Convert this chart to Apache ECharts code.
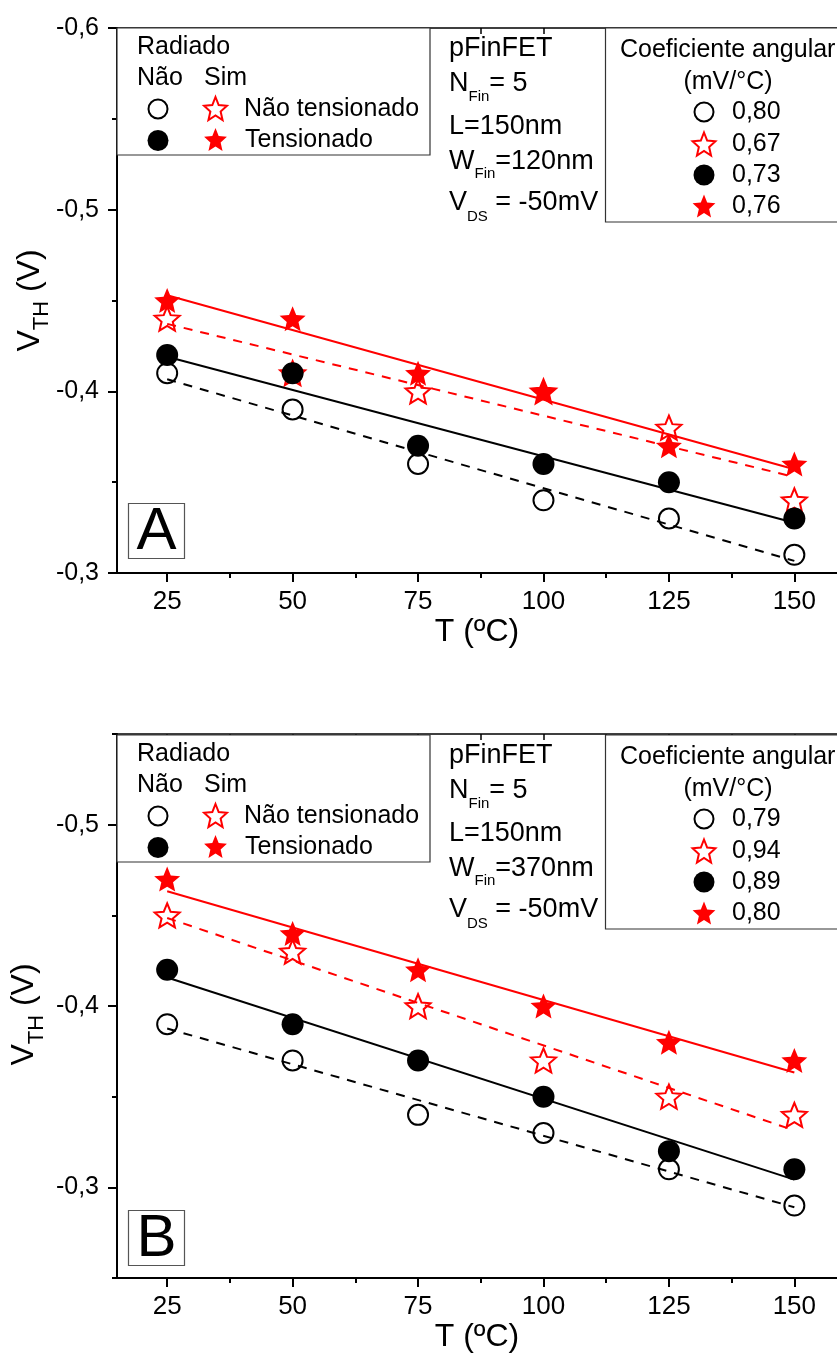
<!DOCTYPE html>
<html><head><meta charset="utf-8">
<script src="https://cdn.jsdelivr.net/npm/echarts@6/dist/echarts.min.js"></script>
<style>html,body{margin:0;padding:0;background:#fff}#c{width:837px;height:1354px}</style>
</head><body><div id="c"></div>
<script>
// ---------- data ----------
const temps = [25, 50, 75, 100, 125, 150];
const xTicks = [25, 50, 75, 100, 125, 150];
const xMinorTicks = [37.5, 62.5, 87.5, 112.5, 137.5];

// Panel A (W_Fin = 120 nm)
const aNaoRadNaoTens = [-0.41, -0.39, -0.36, -0.34, -0.33, -0.31];
const aNaoRadTens    = [-0.42, -0.41, -0.37, -0.36, -0.35, -0.33];
const aRadNaoTens    = [-0.44, -0.41, -0.40, -0.40, -0.38, -0.34];
const aRadTens       = [-0.45, -0.44, -0.41, -0.40, -0.37, -0.36];
const aSlopes = ['0,80', '0,67', '0,73', '0,76'];
const aYTicks = [-0.6, -0.5, -0.4, -0.3];
const aYMinor = [-0.55, -0.45, -0.35];

// Panel B (W_Fin = 370 nm)
const bNaoRadNaoTens = [-0.39, -0.37, -0.34, -0.33, -0.31, -0.29];
const bNaoRadTens    = [-0.42, -0.39, -0.37, -0.35, -0.32, -0.31];
const bRadNaoTens    = [-0.45, -0.43, -0.40, -0.37, -0.35, -0.34];
const bRadTens       = [-0.47, -0.44, -0.42, -0.40, -0.38, -0.37];
const bSlopes = ['0,79', '0,94', '0,89', '0,80'];
const bYTicks = [-0.5, -0.4, -0.3];
const bYMinor = [-0.55, -0.45, -0.35, -0.25];

// ---------- helpers ----------
const FONT = 'Liberation Sans, Arial, sans-serif';
const RED = '#ff0000';
const STAR_PTS = [[0,-1],[0.2645,-0.3641],[0.9511,-0.309],[0.428,0.1391],[0.5878,0.809],[0,0.45],[-0.5878,0.809],[-0.428,0.1391],[-0.9511,-0.309],[-0.2645,-0.3641]];
const STAR = 'M' + STAR_PTS.map(p => p[0] + ',' + p[1]).join('L') + 'Z';

function pairs(xs, ys) { return xs.map((x, i) => [x, ys[i]]); }
function fit(xs, ys) {
  const n = xs.length;
  const mx = xs.reduce((a, b) => a + b, 0) / n;
  const my = ys.reduce((a, b) => a + b, 0) / n;
  let sxy = 0, sxx = 0;
  for (let i = 0; i < n; i++) { sxy += (xs[i] - mx) * (ys[i] - my); sxx += (xs[i] - mx) ** 2; }
  const b = sxy / sxx, a = my - b * mx;
  return [[xs[0], a + b * xs[0]], [xs[n - 1], a + b * xs[n - 1]]];
}
const fmt = v => String(v).replace('.', ',');

const symStyles = [
  { symbol: 'circle', symbolSize: 20, itemStyle: { color: '#fff', borderColor: '#000', borderWidth: 2, opacity: 1 } },
  { symbol: 'path://' + STAR, symbolSize: [25, 24], itemStyle: { color: '#fff', borderColor: RED, borderWidth: 2, opacity: 1 } },
  { symbol: 'circle', symbolSize: 22, itemStyle: { color: '#000', opacity: 1 } },
  { symbol: 'path://' + STAR, symbolSize: [26, 25], itemStyle: { color: RED, opacity: 1 } }
];
const lineStyles = [
  { color: '#000', width: 2, type: [9, 8] },
  { color: RED, width: 2, type: [9, 8] },
  { color: '#000', width: 2, type: 'solid' },
  { color: RED, width: 2, type: 'solid' }
];

function panelSeries(sets, names, xi, yi) {
  const out = [];
  sets.forEach((ys, k) => {
    out.push(Object.assign({
      type: 'scatter', name: names[k], xAxisIndex: xi, yAxisIndex: yi,
      data: pairs(temps, ys), z: 2 + k
    }, symStyles[k]));
  });
  sets.forEach((ys, k) => {
    out.push({
      type: 'line', name: names[k] + ' fit', xAxisIndex: xi, yAxisIndex: yi,
      data: fit(temps, ys), showSymbol: false, silent: true, z: 10,
      lineStyle: lineStyles[k]
    });
  });
  return out;
}

function xAxes(gi) {
  return [
    { gridIndex: gi, type: 'value', min: 15, max: 158.5, position: 'bottom',
      axisLine: { show: true, lineStyle: { color: '#000', width: 2 } },
      axisTick: { show: true, length: 9, lineStyle: { color: '#000', width: 2 }, customValues: xTicks },
      axisLabel: { show: true, customValues: xTicks, formatter: fmt, fontSize: 26, fontFamily: FONT, color: '#000', margin: 16 },
      splitLine: { show: false },
      name: 'T (ºC)', nameLocation: 'middle', nameGap: 35,
      nameTextStyle: { fontSize: 32, fontFamily: FONT, color: '#000' } },
    { gridIndex: gi, type: 'value', min: 15, max: 158.5, position: 'bottom',
      axisLine: { show: false },
      axisTick: { show: true, length: 5, lineStyle: { color: '#000', width: 2 }, customValues: xMinorTicks },
      axisLabel: { show: false }, splitLine: { show: false } },
    { gridIndex: gi, type: 'value', min: 15, max: 158.5, position: 'top',
      axisLine: { show: true, lineStyle: { color: '#000', width: 1.5 } },
      axisTick: { show: true, inside: true, length: 6, lineStyle: { color: '#000', width: 1.5 }, customValues: xTicks.concat(xMinorTicks) },
      axisLabel: { show: false }, splitLine: { show: false } }
  ];
}
function yAxes(gi, min, max, ticks, minor) {
  return [
    { gridIndex: gi, type: 'value', min: min, max: max, inverse: true, position: 'left',
      axisLine: { show: true, lineStyle: { color: '#000', width: 2 } },
      axisTick: { show: true, length: 9, lineStyle: { color: '#000', width: 2 }, customValues: ticks },
      axisLabel: { show: true, customValues: ticks, formatter: fmt, fontSize: 25, fontFamily: FONT, color: '#000', margin: 18 },
      splitLine: { show: false } },
    { gridIndex: gi, type: 'value', min: min, max: max, inverse: true, position: 'left',
      axisLine: { show: false },
      axisTick: { show: true, length: 5, lineStyle: { color: '#000', width: 2 }, customValues: minor },
      axisLabel: { show: false }, splitLine: { show: false } }
  ];
}

function txt(x, y, text, size, align) {
  return { type: 'text', x: x, y: y, z: 101,
    style: { text: text, fontSize: size, fontFamily: FONT, fill: '#000', align: align || 'left', verticalAlign: 'middle' } };
}
function richTxt(x, y, text, size, subSize, pad) {
  return { type: 'text', x: x, y: y, z: 101,
    style: { text: text, fontFamily: FONT, fill: '#000', align: 'left', verticalAlign: 'middle',
      rich: { m: { fontSize: size, fontFamily: FONT, fill: '#000' },
              s: { fontSize: subSize, fontFamily: FONT, fill: '#000', padding: [pad, 0, 0, 0] } } } };
}
function circ(cx, cy, r, filled) {
  return { type: 'circle', z: 101, shape: { cx: cx, cy: cy, r: r },
    style: filled ? { fill: '#000' } : { fill: '#fff', stroke: '#000', lineWidth: 2 } };
}
function star(cx, cy, filled) {
  const rx = 12, ry = 11.5 / 0.9045;
  const pts = STAR_PTS.map(p => [cx + p[0] * rx, cy + (p[1] + 0.0955) * ry]);
  return { type: 'polygon', z: 101, shape: { points: pts },
    style: filled ? { fill: RED } : { fill: '#fff', stroke: RED, lineWidth: 2 } };
}

function panelGraphics(dy, slopes, wfin, letter, titleX, titleY) {
  const g = [];
  // legend box 1
  g.push({ type: 'rect', z: 100, shape: { x: 117, y: 28 + dy, width: 313, height: 127 }, style: { fill: '#fff', stroke: '#333', lineWidth: 1.2 } });
  g.push(txt(137, 47 + dy, 'Radiado', 25));
  g.push(txt(137, 78 + dy, 'Não', 25));
  g.push(txt(204, 78 + dy, 'Sim', 25));
  g.push(circ(158, 109 + dy, 9.5, false));
  g.push(star(215.5, 108.5 + dy, false));
  g.push(txt(244, 109 + dy, 'Não tensionado', 25));
  g.push(circ(158, 140.5 + dy, 10.5, true));
  g.push(star(215.5, 139.5 + dy, true));
  g.push(txt(245, 140 + dy, 'Tensionado', 25));
  // device text
  g.push(txt(449, 49 + dy, 'pFinFET', 27));
  g.push(richTxt(449, 84 + dy, '{m|N}{s|Fin}{m|= 5}', 27, 15, 26));
  g.push(txt(449, 127 + dy, 'L=150nm', 27));
  g.push(richTxt(449, 162 + dy, '{m|W}{s|Fin}{m|=' + wfin + '}', 27, 15, 24));
  g.push(richTxt(449, 203 + dy, '{m|V}{s|DS}{m| = -50mV}', 27, 15, 28));
  // slope box
  g.push({ type: 'rect', z: 100, shape: { x: 605.5, y: 28 + dy, width: 240, height: 194 }, style: { fill: '#fff', stroke: '#333', lineWidth: 1.2 } });
  g.push(txt(620, 50 + dy, 'Coeficiente angular', 25));
  g.push(txt(728, 82 + dy, '(mV/°C)', 25, 'center'));
  const rows = [112, 144, 175, 206];
  g.push(circ(704, rows[0] + dy, 9.5, false));
  g.push(star(704, rows[1] + dy, false));
  g.push(circ(704, rows[2] + dy, 10.5, true));
  g.push(star(704, rows[3] + dy, true));
  rows.forEach((r, i) => g.push(txt(732, r + dy, slopes[i], 25)));
  // panel letter
  g.push({ type: 'rect', z: 100, shape: { x: 128.5, y: 503.5 + dy, width: 56, height: 55 }, style: { fill: '#fff', stroke: '#555', lineWidth: 1.2 } });
  g.push({ type: 'text', z: 101, x: 156.5, y: 532 + dy, style: { text: letter, fontSize: 60, fontFamily: FONT, fill: '#000', align: 'center', verticalAlign: 'middle' } });
  // y axis title
  g.push({ type: 'text', z: 101, x: titleX, y: titleY, rotation: Math.PI / 2,
    style: { text: '{m|V}{s|TH}{m| (V)}', fontFamily: FONT, fill: '#000', align: 'center', verticalAlign: 'middle',
      rich: { m: { fontSize: 32, fontFamily: FONT, fill: '#000' }, s: { fontSize: 22, fontFamily: FONT, fill: '#000', padding: [24, 0, 0, 0] } } } });
  return g;
}

const names = ['Não radiado, não tensionado', 'Radiado, não tensionado', 'Não radiado, tensionado', 'Radiado, tensionado'];

const option = {
  backgroundColor: '#fff',
  animation: false,
  grid: [
    { left: 117, top: 28, right: -3, height: 545 },
    { left: 117, top: 734, right: -3, height: 546 }
  ],
  xAxis: xAxes(0).concat(xAxes(1)),
  yAxis: yAxes(0, -0.6, -0.3, aYTicks, aYMinor).concat(yAxes(1, -0.55, -0.25, bYTicks, bYMinor)),
  series: panelSeries([aNaoRadNaoTens, aRadNaoTens, aNaoRadTens, aRadTens], names, 0, 0)
    .concat(panelSeries([bNaoRadNaoTens, bRadNaoTens, bNaoRadTens, bRadTens], names, 3, 2)),
  graphic: { elements: panelGraphics(0, aSlopes, '120nm', 'A', 30, 300.5).concat(panelGraphics(707, bSlopes, '370nm', 'B', 24.5, 1014.5)) }
};

const chart = echarts.init(document.getElementById('c'), null, { renderer: 'canvas' });
chart.setOption(option);
</script>
</body></html>
